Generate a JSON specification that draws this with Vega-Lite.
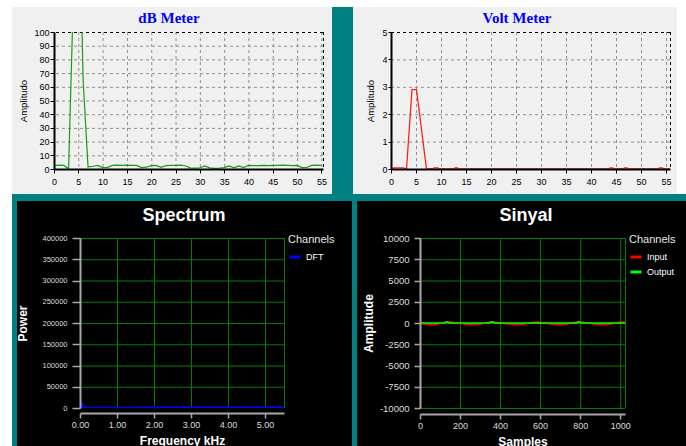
{
  "$schema": "https://vega.github.io/schema/vega-lite/v6.json",
  "padding": 0,
  "autosize": {"type": "pad"},
  "background": "#ffffff",
  "config": {
    "view": {"stroke": null},
    "axis": {"labelFont": "Liberation Sans", "titleFont": "Liberation Sans", "tickCount": 100, "grid": false, "gridOpacity": 0, "gridColor": "#008000"},
    "axisX": {"grid": false, "gridOpacity": 0},
    "axisY": {"grid": false, "gridOpacity": 0},
    "legend": {"labelFont": "Liberation Sans", "titleFont": "Liberation Sans"}
  },
  "datasets": {
    "db": [
      {"bin": 0, "db": 2.5}, {"bin": 1, "db": 2.8}, {"bin": 2, "db": 2.6}, {"bin": 3, "db": 0.3},
      {"bin": 4, "db": 128}, {"bin": 5, "db": 220}, {"bin": 6, "db": 64}, {"bin": 7, "db": 1.5},
      {"bin": 8, "db": 2.0}, {"bin": 9, "db": 2.6}, {"bin": 10, "db": 1.0}, {"bin": 11, "db": 1.2},
      {"bin": 12, "db": 2.6}, {"bin": 13, "db": 2.8}, {"bin": 14, "db": 2.7}, {"bin": 15, "db": 2.8},
      {"bin": 16, "db": 2.7}, {"bin": 17, "db": 2.6}, {"bin": 18, "db": 1.0}, {"bin": 19, "db": 1.3},
      {"bin": 20, "db": 2.5}, {"bin": 21, "db": 2.6}, {"bin": 22, "db": 1.2}, {"bin": 23, "db": 2.5},
      {"bin": 24, "db": 2.7}, {"bin": 25, "db": 2.6}, {"bin": 26, "db": 2.8}, {"bin": 27, "db": 2.4},
      {"bin": 28, "db": 0.8}, {"bin": 29, "db": 0.6}, {"bin": 30, "db": 0.9}, {"bin": 31, "db": 2.2},
      {"bin": 32, "db": 0.8}, {"bin": 33, "db": 0.5}, {"bin": 34, "db": 0.7}, {"bin": 35, "db": 1.0},
      {"bin": 36, "db": 2.3}, {"bin": 37, "db": 0.9}, {"bin": 38, "db": 2.2}, {"bin": 39, "db": 1.0},
      {"bin": 40, "db": 2.6}, {"bin": 41, "db": 2.5}, {"bin": 42, "db": 2.4}, {"bin": 43, "db": 2.6},
      {"bin": 44, "db": 2.5}, {"bin": 45, "db": 2.7}, {"bin": 46, "db": 2.6}, {"bin": 47, "db": 2.8},
      {"bin": 48, "db": 2.7}, {"bin": 49, "db": 2.5}, {"bin": 50, "db": 2.6}, {"bin": 51, "db": 1.0},
      {"bin": 52, "db": 1.1}, {"bin": 53, "db": 2.6}, {"bin": 54, "db": 2.8}, {"bin": 55, "db": 2.7}
    ],
    "volt": [
      {"bin": 0, "v": 0}, {"bin": 0.5, "v": 0.04}, {"bin": 2.5, "v": 0.04}, {"bin": 3.1, "v": 0},
      {"bin": 4.2, "v": 2.9}, {"bin": 5.1, "v": 2.9}, {"bin": 7.1, "v": 0},
      {"bin": 8.3, "v": 0}, {"bin": 8.6, "v": 0.04}, {"bin": 9.4, "v": 0.04}, {"bin": 9.7, "v": 0},
      {"bin": 12.5, "v": 0}, {"bin": 12.8, "v": 0.04}, {"bin": 13.3, "v": 0.04}, {"bin": 13.6, "v": 0},
      {"bin": 43.5, "v": 0}, {"bin": 43.8, "v": 0.04}, {"bin": 44.3, "v": 0.04}, {"bin": 44.6, "v": 0},
      {"bin": 46.4, "v": 0}, {"bin": 46.7, "v": 0.04}, {"bin": 47.2, "v": 0.04}, {"bin": 47.5, "v": 0},
      {"bin": 53.4, "v": 0}, {"bin": 53.7, "v": 0.04}, {"bin": 54.3, "v": 0.04}, {"bin": 54.6, "v": 0},
      {"bin": 55.8, "v": 0}
    ],
    "spec": [
      {"f": 0.0, "p": 0, "ch": "DFT"}, {"f": 0.04, "p": 3000, "ch": "DFT"}, {"f": 0.06, "p": 13000, "ch": "DFT"},
      {"f": 0.08, "p": 4000, "ch": "DFT"}, {"f": 0.1, "p": 1500, "ch": "DFT"}, {"f": 0.2, "p": 800, "ch": "DFT"},
      {"f": 0.3, "p": 600, "ch": "DFT"}, {"f": 0.4, "p": 700, "ch": "DFT"}, {"f": 0.5, "p": 500, "ch": "DFT"},
      {"f": 0.6, "p": 600, "ch": "DFT"}, {"f": 0.7, "p": 500, "ch": "DFT"}, {"f": 0.8, "p": 700, "ch": "DFT"},
      {"f": 0.9, "p": 600, "ch": "DFT"}, {"f": 1.0, "p": 500, "ch": "DFT"}, {"f": 1.1, "p": 600, "ch": "DFT"},
      {"f": 1.2, "p": 700, "ch": "DFT"}, {"f": 1.3, "p": 500, "ch": "DFT"}, {"f": 1.4, "p": 600, "ch": "DFT"},
      {"f": 1.5, "p": 800, "ch": "DFT"}, {"f": 1.6, "p": 700, "ch": "DFT"}, {"f": 1.7, "p": 900, "ch": "DFT"},
      {"f": 1.8, "p": 1200, "ch": "DFT"}, {"f": 1.9, "p": 800, "ch": "DFT"}, {"f": 2.0, "p": 1500, "ch": "DFT"},
      {"f": 2.1, "p": 600, "ch": "DFT"}, {"f": 2.2, "p": 1800, "ch": "DFT"}, {"f": 2.3, "p": 700, "ch": "DFT"},
      {"f": 2.4, "p": 2000, "ch": "DFT"}, {"f": 2.5, "p": 900, "ch": "DFT"}, {"f": 2.6, "p": 1700, "ch": "DFT"},
      {"f": 2.7, "p": 600, "ch": "DFT"}, {"f": 2.8, "p": 2100, "ch": "DFT"}, {"f": 2.9, "p": 800, "ch": "DFT"},
      {"f": 3.0, "p": 1900, "ch": "DFT"}, {"f": 3.1, "p": 700, "ch": "DFT"}, {"f": 3.2, "p": 2200, "ch": "DFT"},
      {"f": 3.3, "p": 900, "ch": "DFT"}, {"f": 3.4, "p": 1800, "ch": "DFT"}, {"f": 3.5, "p": 600, "ch": "DFT"},
      {"f": 3.6, "p": 2000, "ch": "DFT"}, {"f": 3.7, "p": 800, "ch": "DFT"}, {"f": 3.8, "p": 1600, "ch": "DFT"},
      {"f": 3.9, "p": 700, "ch": "DFT"}, {"f": 4.0, "p": 2300, "ch": "DFT"}, {"f": 4.1, "p": 900, "ch": "DFT"},
      {"f": 4.2, "p": 1700, "ch": "DFT"}, {"f": 4.3, "p": 600, "ch": "DFT"}, {"f": 4.4, "p": 2000, "ch": "DFT"},
      {"f": 4.5, "p": 800, "ch": "DFT"}, {"f": 4.6, "p": 1900, "ch": "DFT"}, {"f": 4.7, "p": 700, "ch": "DFT"},
      {"f": 4.8, "p": 2200, "ch": "DFT"}, {"f": 4.9, "p": 900, "ch": "DFT"}, {"f": 5.0, "p": 1800, "ch": "DFT"},
      {"f": 5.1, "p": 600, "ch": "DFT"}, {"f": 5.2, "p": 2000, "ch": "DFT"}, {"f": 5.3, "p": 800, "ch": "DFT"},
      {"f": 5.4, "p": 2100, "ch": "DFT"}, {"f": 5.5, "p": 700, "ch": "DFT"}
    ],
    "sig": [
      {"n": 0, "a": -50, "ch": "Input"}, {"n": 30, "a": -150, "ch": "Input"}, {"n": 60, "a": -220, "ch": "Input"},
      {"n": 90, "a": -120, "ch": "Input"}, {"n": 110, "a": 0, "ch": "Input"}, {"n": 135, "a": 150, "ch": "Input"},
      {"n": 160, "a": 80, "ch": "Input"}, {"n": 190, "a": -30, "ch": "Input"}, {"n": 220, "a": -120, "ch": "Input"},
      {"n": 250, "a": -200, "ch": "Input"}, {"n": 275, "a": -220, "ch": "Input"}, {"n": 300, "a": -150, "ch": "Input"},
      {"n": 330, "a": 20, "ch": "Input"}, {"n": 355, "a": 150, "ch": "Input"}, {"n": 380, "a": 100, "ch": "Input"},
      {"n": 410, "a": -20, "ch": "Input"}, {"n": 440, "a": -120, "ch": "Input"}, {"n": 470, "a": -200, "ch": "Input"},
      {"n": 495, "a": -220, "ch": "Input"}, {"n": 520, "a": -150, "ch": "Input"}, {"n": 545, "a": 0, "ch": "Input"},
      {"n": 575, "a": 120, "ch": "Input"}, {"n": 600, "a": 100, "ch": "Input"}, {"n": 630, "a": -30, "ch": "Input"},
      {"n": 660, "a": -140, "ch": "Input"}, {"n": 690, "a": -200, "ch": "Input"}, {"n": 710, "a": -220, "ch": "Input"},
      {"n": 735, "a": -130, "ch": "Input"}, {"n": 760, "a": 30, "ch": "Input"}, {"n": 790, "a": 160, "ch": "Input"},
      {"n": 815, "a": 90, "ch": "Input"}, {"n": 845, "a": -30, "ch": "Input"}, {"n": 870, "a": -130, "ch": "Input"},
      {"n": 900, "a": -200, "ch": "Input"}, {"n": 925, "a": -220, "ch": "Input"}, {"n": 950, "a": -140, "ch": "Input"},
      {"n": 975, "a": 0, "ch": "Input"}, {"n": 1000, "a": 120, "ch": "Input"}, {"n": 1024, "a": 100, "ch": "Input"},
      {"n": 0, "a": 0, "ch": "Output"}, {"n": 120, "a": 0, "ch": "Output"}, {"n": 135, "a": 150, "ch": "Output"},
      {"n": 150, "a": 0, "ch": "Output"}, {"n": 345, "a": 0, "ch": "Output"}, {"n": 360, "a": 130, "ch": "Output"},
      {"n": 375, "a": 0, "ch": "Output"}, {"n": 780, "a": 0, "ch": "Output"}, {"n": 795, "a": 150, "ch": "Output"},
      {"n": 810, "a": 0, "ch": "Output"}, {"n": 1024, "a": 0, "ch": "Output"}
    ],
    "gridX55": [{"x": 5}, {"x": 10}, {"x": 15}, {"x": 20}, {"x": 25}, {"x": 30}, {"x": 35}, {"x": 40}, {"x": 45}, {"x": 50}, {"x": 55}],
    "dbGridY": [{"y": 10}, {"y": 20}, {"y": 30}, {"y": 40}, {"y": 50}, {"y": 60}, {"y": 70}, {"y": 80}, {"y": 90}],
    "voltGridY": [{"y": 1}, {"y": 2}, {"y": 3}, {"y": 4}],
    "specGridX": [{"x": 0}, {"x": 1}, {"x": 2}, {"x": 3}, {"x": 4}, {"x": 5}, {"x": 5.5125}],
    "specGridY": [{"y": 50000}, {"y": 100000}, {"y": 150000}, {"y": 200000}, {"y": 250000}, {"y": 300000}, {"y": 350000}, {"y": 400000}],
    "sigGridX": [{"x": 0}, {"x": 200}, {"x": 400}, {"x": 600}, {"x": 800}, {"x": 1000}, {"x": 1024}],
    "sigGridY": [{"y": -10000}, {"y": -7500}, {"y": -5000}, {"y": -2500}, {"y": 0}, {"y": 2500}, {"y": 5000}, {"y": 7500}, {"y": 10000}]
  },
  "spacing": 0,
  "resolve": {"scale": {"color": "independent"}, "legend": {"color": "independent"}},
  "vconcat": [
    {
      "spacing": 0,
      "resolve": {"scale": {"color": "independent"}, "legend": {"color": "independent"}},
      "hconcat": [
        {
          "width": 269,
          "height": 137,
          "layer": [
            {
              "data": {"values": [{"panel": "dB Meter"}]},
              "mark": {"type": "rect", "fill": "#ffffff"},
              "encoding": {
                "x": {"datum": -11.1, "type": "quantitative", "scale": {"domain": [0, 55.33], "nice": false, "zero": false},
                  "axis": {"values": [0, 5, 10, 15, 20, 25, 30, 35, 40, 45, 50, 55], "tickCount": 100, "format": "d", "title": null, "grid": false,
                    "domainColor": "#000000", "domainWidth": 2, "tickColor": "#000000", "tickSize": 4,
                    "labelColor": "#000000", "labelFontSize": 9, "labelPadding": 4.5, "labelFlush": false, "labelOverlap": false, "zindex": 1}},
                "x2": {"datum": 61.5},
                "y": {"datum": 123.35, "type": "quantitative", "scale": {"domain": [0, 100], "nice": false, "zero": false},
                  "axis": {"values": [0, 10, 20, 30, 40, 50, 60, 70, 80, 90, 100], "tickCount": 100, "format": "d", "title": "Amplitudo", "titleFontSize": 9.5, "titleFontWeight": "normal", "titleColor": "#000000", "titlePadding": 5.5, "grid": false,
                    "domainColor": "#000000", "domainWidth": 2, "tickColor": "#000000", "tickSize": 4,
                    "labelColor": "#000000", "labelFontSize": 9, "labelPadding": 1, "labelFlush": false, "labelOverlap": false, "zindex": 1}},
                "y2": {"datum": -23.355}
              }
            },
            {
              "data": {"values": [{"panel": "dB Meter"}]},
              "mark": {"type": "rect", "fill": "#008080"},
              "encoding": {
                "x": {"datum": -8.639, "type": "quantitative", "scale": {"domain": [0, 55.33], "nice": false, "zero": false}},
                "x2": {"datum": 61.5},
                "y": {"datum": 118.248, "type": "quantitative", "scale": {"domain": [0, 100], "nice": false, "zero": false}},
                "y2": {"datum": -23.355}
              }
            },
            {
              "data": {"values": [{"panel": "dB Meter"}]},
              "mark": {"type": "rect", "fill": "#f0f0f0"},
              "encoding": {
                "x": {"datum": -8.639, "type": "quantitative", "scale": {"domain": [0, 55.33], "nice": false, "zero": false}},
                "x2": {"datum": 57.181},
                "y": {"datum": 118.248, "type": "quantitative", "scale": {"domain": [0, 100], "nice": false, "zero": false}},
                "y2": {"datum": -18.248}
              }
            },
            {
              "data": {"name": "gridX55"},
              "mark": {"type": "rule", "color": "#909090", "strokeDash": [3, 3], "strokeWidth": 1, "xOffset": 0.5},
              "encoding": {"x": {"field": "x", "type": "quantitative", "scale": {"domain": [0, 55.33], "nice": false, "zero": false}, "title": null}}
            },
            {
              "data": {"name": "dbGridY"},
              "mark": {"type": "rule", "color": "#909090", "strokeDash": [3, 3], "strokeWidth": 1, "yOffset": 0.5},
              "encoding": {"y": {"field": "y", "type": "quantitative", "scale": {"domain": [0, 100], "nice": false, "zero": false}, "title": "Amplitudo"}}
            },
            {
              "data": {"values": [{"panel": "dB Meter"}]},
              "mark": {"type": "rule", "color": "#000000", "strokeDash": [3, 3], "strokeWidth": 1, "xOffset": 0.5},
              "encoding": {"x": {"datum": 55.33, "type": "quantitative", "scale": {"domain": [0, 55.33], "nice": false, "zero": false}}}
            },
            {
              "data": {"values": [{"panel": "dB Meter"}]},
              "mark": {"type": "rule", "color": "#000000", "strokeDash": [3, 3], "strokeWidth": 1, "yOffset": 0.5},
              "encoding": {"y": {"datum": 100, "type": "quantitative", "scale": {"domain": [0, 100], "nice": false, "zero": false}}}
            },
            {
              "data": {"name": "db"},
              "mark": {"type": "line", "color": "#1a9a1a", "strokeWidth": 1.2, "clip": true},
              "encoding": {
                "x": {"field": "bin", "type": "quantitative", "scale": {"domain": [0, 55.33], "nice": false, "zero": false}, "title": null},
                "y": {"field": "db", "type": "quantitative", "scale": {"domain": [0, 100], "nice": false, "zero": false}, "title": "Amplitudo"}
              }
            },
            {
              "data": {"values": [{"title": "dB Meter"}]},
              "mark": {"type": "text", "font": "Liberation Serif", "fontSize": 15, "fontWeight": "bold", "color": "#0000ff", "align": "center", "baseline": "middle"},
              "encoding": {
                "text": {"field": "title"},
                "x": {"datum": 23.65, "type": "quantitative", "scale": {"domain": [0, 55.33], "nice": false, "zero": false}},
                "y": {"datum": 110.2, "type": "quantitative", "scale": {"domain": [0, 100], "nice": false, "zero": false}}
              }
            }
          ]
        },
        {
          "width": 279,
          "height": 137,
          "layer": [
            {
              "data": {"values": [{"panel": "Volt Meter"}]},
              "mark": {"type": "rect", "fill": "#ffffff"},
              "encoding": {
                "x": {"datum": -7.598, "type": "quantitative", "scale": {"domain": [0, 55.8], "nice": false, "zero": false},
                  "axis": {"values": [0, 5, 10, 15, 20, 25, 30, 35, 40, 45, 50, 55], "tickCount": 100, "format": "d", "title": null, "grid": false,
                    "domainColor": "#000000", "domainWidth": 2, "tickColor": "#000000", "tickSize": 4,
                    "labelColor": "#000000", "labelFontSize": 9, "labelPadding": 4.5, "labelFlush": false, "labelOverlap": false, "zindex": 1}},
                "x2": {"datum": 59.0},
                "y": {"datum": 6.1675, "type": "quantitative", "scale": {"domain": [0, 5], "nice": false, "zero": false},
                  "axis": {"values": [0, 1, 2, 3, 4, 5], "tickCount": 100, "format": "d", "title": "Amplitudo", "titleFontSize": 9.5, "titleFontWeight": "normal", "titleColor": "#000000", "titlePadding": 6, "grid": false,
                    "domainColor": "#000000", "domainWidth": 2, "tickColor": "#000000", "tickSize": 3,
                    "labelColor": "#000000", "labelFontSize": 9, "labelPadding": 1, "labelFlush": false, "labelOverlap": false, "zindex": 1}},
                "y2": {"datum": -1.1678}
              }
            },
            {
              "data": {"values": [{"panel": "Volt Meter"}]},
              "mark": {"type": "rect", "fill": "#008080"},
              "encoding": {
                "x": {"datum": -7.598, "type": "quantitative", "scale": {"domain": [0, 55.8], "nice": false, "zero": false}},
                "x2": {"datum": 59.0},
                "y": {"datum": 5.9124, "type": "quantitative", "scale": {"domain": [0, 5], "nice": false, "zero": false}},
                "y2": {"datum": -1.1678}
              }
            },
            {
              "data": {"values": [{"panel": "Volt Meter"}]},
              "mark": {"type": "rect", "fill": "#ffffff"},
              "encoding": {
                "x": {"datum": 57.2, "type": "quantitative", "scale": {"domain": [0, 55.8], "nice": false, "zero": false}},
                "x2": {"datum": 59.0},
                "y": {"datum": 6.1675, "type": "quantitative", "scale": {"domain": [0, 5], "nice": false, "zero": false}},
                "y2": {"datum": -0.9124}
              }
            },
            {
              "data": {"values": [{"panel": "Volt Meter"}]},
              "mark": {"type": "rect", "fill": "#f0f0f0"},
              "encoding": {
                "x": {"datum": -7.598, "type": "quantitative", "scale": {"domain": [0, 55.8], "nice": false, "zero": false}},
                "x2": {"datum": 57.2},
                "y": {"datum": 5.9124, "type": "quantitative", "scale": {"domain": [0, 5], "nice": false, "zero": false}},
                "y2": {"datum": -0.9124}
              }
            },
            {
              "data": {"name": "gridX55"},
              "mark": {"type": "rule", "color": "#909090", "strokeDash": [3, 3], "strokeWidth": 1, "xOffset": 0.5},
              "encoding": {"x": {"field": "x", "type": "quantitative", "scale": {"domain": [0, 55.8], "nice": false, "zero": false}, "title": null}}
            },
            {
              "data": {"name": "voltGridY"},
              "mark": {"type": "rule", "color": "#909090", "strokeDash": [3, 3], "strokeWidth": 1, "yOffset": 0.5},
              "encoding": {"y": {"field": "y", "type": "quantitative", "scale": {"domain": [0, 5], "nice": false, "zero": false}, "title": "Amplitudo"}}
            },
            {
              "data": {"values": [{"panel": "Volt Meter"}]},
              "mark": {"type": "rule", "color": "#000000", "strokeDash": [3, 3], "strokeWidth": 1, "xOffset": 0.5},
              "encoding": {"x": {"datum": 55.8, "type": "quantitative", "scale": {"domain": [0, 55.8], "nice": false, "zero": false}}}
            },
            {
              "data": {"values": [{"panel": "Volt Meter"}]},
              "mark": {"type": "rule", "color": "#000000", "strokeDash": [3, 3], "strokeWidth": 1, "yOffset": 0.5},
              "encoding": {"y": {"datum": 5, "type": "quantitative", "scale": {"domain": [0, 5], "nice": false, "zero": false}}}
            },
            {
              "data": {"name": "volt"},
              "mark": {"type": "line", "color": "#ff2020", "strokeWidth": 1.3, "clip": true},
              "encoding": {
                "x": {"field": "bin", "type": "quantitative", "scale": {"domain": [0, 55.8], "nice": false, "zero": false}, "title": null},
                "y": {"field": "v", "type": "quantitative", "scale": {"domain": [0, 5], "nice": false, "zero": false}, "title": "Amplitudo"}
              }
            },
            {
              "data": {"values": [{"title": "Volt Meter"}]},
              "mark": {"type": "text", "font": "Liberation Serif", "fontSize": 15, "fontWeight": "bold", "color": "#0000ff", "align": "center", "baseline": "middle"},
              "encoding": {
                "text": {"field": "title"},
                "x": {"datum": 25.2, "type": "quantitative", "scale": {"domain": [0, 55.8], "nice": false, "zero": false}},
                "y": {"datum": 5.511, "type": "quantitative", "scale": {"domain": [0, 5], "nice": false, "zero": false}}
              }
            }
          ]
        }
      ]
    },
    {
      "spacing": -55,
      "resolve": {"scale": {"color": "independent"}, "legend": {"color": "independent"}},
      "hconcat": [
        {
          "width": 1,
          "height": 1,
          "data": {"values": [{"spacer": 0}]},
          "mark": {"type": "rect", "opacity": 0},
          "encoding": {}
        },
        {
          "spacing": 0,
          "resolve": {"scale": {"color": "independent"}, "legend": {"color": "independent"}},
          "hconcat": [
            {
              "width": 204,
              "height": 170,
              "layer": [
                {
                  "data": {"values": [{"panel": "Spectrum"}]},
                  "mark": {"type": "rect", "fill": "#ffffff"},
                  "encoding": {
                    "x": {"datum": -2.1615, "type": "quantitative", "scale": {"domain": [0, 5.5125], "nice": false, "zero": false},
                      "axis": {"values": [0, 1, 2, 3, 4, 5], "tickCount": 100, "labelExpr": "format(datum.value, '.2f')",
                        "title": "Frequency kHz", "titleColor": "#ffffff", "titleFontSize": 12, "titleFontWeight": "bold", "titlePadding": 6,
                        "grid": false, "gridOpacity": 0, "gridColor": "#008000",
                        "domainColor": "#a8a8a8", "domainWidth": 2, "offset": 5, "tickColor": "#a8a8a8", "tickWidth": 1.5, "tickSize": 5,
                        "labelColor": "#dddddd", "labelFontSize": 9, "labelPadding": 2, "labelFlush": false, "labelOverlap": false, "zindex": 1}},
                    "x2": {"datum": 7.4849},
                    "y": {"datum": 487050, "type": "quantitative", "scale": {"domain": [0, 400000], "nice": false, "zero": false},
                      "axis": {"values": [0, 50000, 100000, 150000, 200000, 250000, 300000, 350000, 400000], "tickCount": 100, "labelExpr": "toString(datum.value)",
                        "title": "Power", "titleColor": "#ffffff", "titleFontSize": 12, "titleFontWeight": "bold", "titlePadding": 12,
                        "grid": false, "gridOpacity": 0, "gridColor": "#008000",
                        "domainColor": "#a8a8a8", "domainWidth": 2, "tickColor": "#a8a8a8", "tickWidth": 1.5, "tickSize": 8,
                        "labelColor": "#dddddd", "labelFontSize": 7.5, "labelPadding": 5, "labelFlush": false, "labelOverlap": false, "zindex": 1}},
                    "y2": {"datum": -122353}
                  }
                },
                {
                  "data": {"values": [{"panel": "Spectrum"}]},
                  "mark": {"type": "rect", "fill": "#008080"},
                  "encoding": {
                    "x": {"datum": -1.8375, "type": "quantitative", "scale": {"domain": [0, 5.5125], "nice": false, "zero": false}},
                    "x2": {"datum": 7.4849},
                    "y": {"datum": 487050, "type": "quantitative", "scale": {"domain": [0, 400000], "nice": false, "zero": false}},
                    "y2": {"datum": -122353}
                  }
                },
                {
                  "data": {"values": [{"panel": "Spectrum"}]},
                  "mark": {"type": "rect", "fill": "#000000"},
                  "encoding": {
                    "x": {"datum": -1.7024, "type": "quantitative", "scale": {"domain": [0, 5.5125], "nice": false, "zero": false}},
                    "x2": {"datum": 7.35},
                    "y": {"datum": 487050, "type": "quantitative", "scale": {"domain": [0, 400000], "nice": false, "zero": false}},
                    "y2": {"datum": -122353}
                  }
                },
                {
                  "data": {"name": "specGridX"},
                  "mark": {"type": "rule", "color": "#008000", "strokeWidth": 1, "xOffset": 0.5},
                  "encoding": {"x": {"field": "x", "type": "quantitative", "scale": {"domain": [0, 5.5125], "nice": false, "zero": false}, "title": "Frequency kHz"}}
                },
                {
                  "data": {"name": "specGridY"},
                  "mark": {"type": "rule", "color": "#008000", "strokeWidth": 1, "yOffset": 0.5},
                  "encoding": {"y": {"field": "y", "type": "quantitative", "scale": {"domain": [0, 400000], "nice": false, "zero": false}, "title": "Power"}}
                },
                {
                  "data": {"name": "spec"},
                  "mark": {"type": "line", "strokeWidth": 2, "clip": true},
                  "encoding": {
                    "x": {"field": "f", "type": "quantitative", "scale": {"domain": [0, 5.5125], "nice": false, "zero": false}, "title": "Frequency kHz"},
                    "y": {"field": "p", "type": "quantitative", "scale": {"domain": [0, 400000], "nice": false, "zero": false}, "title": "Power"},
                    "color": {"field": "ch", "type": "nominal", "scale": {"domain": ["DFT"], "range": ["#0000ff"]},
                      "legend": {"title": "Channels", "orient": "none", "legendX": 208, "legendY": -4, "padding": 0,
                        "titleColor": "#e6e6e6", "titleFontSize": 11, "titleFontWeight": "normal", "titlePadding": 5,
                        "labelColor": "#ffffff", "labelFontSize": 9, "labelOffset": 4,
                        "symbolType": "stroke", "symbolStrokeWidth": 3, "symbolSize": 120, "rowPadding": 2, "zindex": 1}}
                  }
                },
                {
                  "data": {"values": [{"title": "Spectrum"}]},
                  "mark": {"type": "text", "font": "Liberation Sans", "fontSize": 18, "fontWeight": "bold", "color": "#ffffff", "align": "center", "baseline": "middle"},
                  "encoding": {
                    "text": {"field": "title"},
                    "x": {"datum": 2.81, "type": "quantitative", "scale": {"domain": [0, 5.5125], "nice": false, "zero": false}},
                    "y": {"datum": 452470, "type": "quantitative", "scale": {"domain": [0, 400000], "nice": false, "zero": false}}
                  }
                }
              ]
            },
            {
              "width": 205,
              "height": 170,
              "layer": [
                {
                  "data": {"values": [{"panel": "Sinyal"}]},
                  "mark": {"type": "rect", "fill": "#000000"},
                  "encoding": {
                    "x": {"datum": -314.6, "type": "quantitative", "scale": {"domain": [0, 1024], "nice": false, "zero": false},
                      "axis": {"values": [0, 200, 400, 600, 800, 1000], "tickCount": 100, "labelExpr": "toString(datum.value)",
                        "title": "Samples", "titleColor": "#ffffff", "titleFontSize": 12, "titleFontWeight": "bold", "titlePadding": 6,
                        "grid": false, "gridOpacity": 0,
                        "domainColor": "#a8a8a8", "domainWidth": 2, "offset": 6, "tickColor": "#a8a8a8", "tickWidth": 1.5, "tickSize": 5,
                        "labelColor": "#dddddd", "labelFontSize": 9, "labelPadding": 2, "labelFlush": false, "labelOverlap": false, "zindex": 1}},
                    "x2": {"datum": 1328.7},
                    "y": {"datum": 14352, "type": "quantitative", "scale": {"domain": [-10000, 10000], "nice": false, "zero": false},
                      "axis": {"values": [-10000, -7500, -5000, -2500, 0, 2500, 5000, 7500, 10000], "tickCount": 100, "labelExpr": "toString(datum.value)",
                        "title": "Amplitude", "titleColor": "#ffffff", "titleFontSize": 12, "titleFontWeight": "bold", "titlePadding": 4,
                        "grid": false, "gridOpacity": 0,
                        "domainColor": "#a8a8a8", "domainWidth": 2, "tickColor": "#a8a8a8", "tickWidth": 1.5, "tickSize": 6,
                        "labelColor": "#dddddd", "labelFontSize": 9.5, "labelPadding": 5, "labelFlush": false, "labelOverlap": false, "zindex": 1}},
                    "y2": {"datum": -16117}
                  }
                },
                {
                  "data": {"name": "sigGridX"},
                  "mark": {"type": "rule", "color": "#008000", "strokeWidth": 1, "xOffset": 0.5},
                  "encoding": {"x": {"field": "x", "type": "quantitative", "scale": {"domain": [0, 1024], "nice": false, "zero": false}, "title": "Samples"}}
                },
                {
                  "data": {"name": "sigGridY"},
                  "mark": {"type": "rule", "color": "#008000", "strokeWidth": 1, "yOffset": 0.5},
                  "encoding": {"y": {"field": "y", "type": "quantitative", "scale": {"domain": [-10000, 10000], "nice": false, "zero": false}, "title": "Amplitude"}}
                },
                {
                  "data": {"name": "sig"},
                  "mark": {"type": "line", "strokeWidth": 1.5, "clip": true},
                  "encoding": {
                    "x": {"field": "n", "type": "quantitative", "scale": {"domain": [0, 1024], "nice": false, "zero": false}, "title": "Samples"},
                    "y": {"field": "a", "type": "quantitative", "scale": {"domain": [-10000, 10000], "nice": false, "zero": false}, "title": "Amplitude"},
                    "color": {"field": "ch", "type": "nominal", "scale": {"domain": ["Input", "Output"], "range": ["#ff0000", "#00ff00"]},
                      "legend": {"title": "Channels", "orient": "none", "legendX": 209, "legendY": -4, "padding": 0,
                        "titleColor": "#e6e6e6", "titleFontSize": 11, "titleFontWeight": "normal", "titlePadding": 5,
                        "labelColor": "#ffffff", "labelFontSize": 9, "labelOffset": 4,
                        "symbolType": "stroke", "symbolStrokeWidth": 3, "symbolSize": 120, "rowPadding": 2, "zindex": 1}}
                  }
                },
                {
                  "data": {"values": [{"title": "Sinyal"}]},
                  "mark": {"type": "text", "font": "Liberation Sans", "fontSize": 18, "fontWeight": "bold", "color": "#ffffff", "align": "center", "baseline": "middle"},
                  "encoding": {
                    "text": {"field": "title"},
                    "x": {"datum": 529.5, "type": "quantitative", "scale": {"domain": [0, 1024], "nice": false, "zero": false}},
                    "y": {"datum": 12623.5, "type": "quantitative", "scale": {"domain": [-10000, 10000], "nice": false, "zero": false}}
                  }
                }
              ]
            }
          ]
        }
      ]
    }
  ]
}
